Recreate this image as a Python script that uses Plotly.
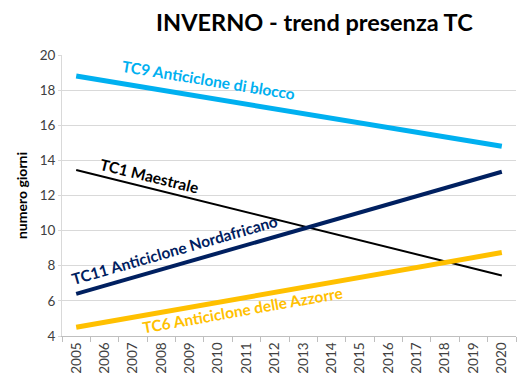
import plotly.graph_objects as go

years = [str(y) for y in range(2005, 2021)]
trend_years = ["2005", "2020"]
tc9 = [18.8, 14.8]
tc1 = [13.45, 7.45]
tc11 = [6.4, 13.35]
tc6 = [4.5, 8.75]

names = ["TC9 Anticiclone di blocco", "TC1 Maestrale",
         "TC11 Anticiclone Nordafricano", "TC6 Anticiclone delle Azzorre"]
colors = ["#00B0F0", "#000000", "#002060", "#FFC000"]
widths = [5, 2, 4, 5]
series = [tc9, tc1, tc11, tc6]

FONT = "Lato"
fig = go.Figure()
for s, n, c, w in zip(series, names, colors, widths):
    fig.add_trace(go.Scatter(x=trend_years, y=s, mode="lines", name=n,
                             line=dict(color=c, width=w), showlegend=False))

# labels: (x index, y value, angle)
lab = [(4.68, 18.55, 9.3), (2.6, 13.1, 13.8), (3.45, 8.9, -16), (5.85, 5.5, -10)]
for (xi, yv, ang), n, c in zip(lab, names, colors):
    fig.add_annotation(x=xi, y=yv, xref="x", yref="y", text="<b>%s</b>" % n,
                       showarrow=False, textangle=ang,
                       font=dict(family=FONT, size=15.5, color=c))

fig.update_layout(
    width=524, height=384,
    margin=dict(l=62, r=8, t=55, b=48, autoexpand=False),
    paper_bgcolor="white", plot_bgcolor="white",
    title=dict(text="<b>INVERNO - trend presenza TC</b>", x=0.6, xanchor="center",
               y=0.94, yref="container", yanchor="middle",
               font=dict(family=FONT, size=23.5, color="#000000")),
    font=dict(family=FONT, color="#404040"),
)
fig.update_xaxes(type="category", categoryorder="array", categoryarray=years,
                 range=[-0.5, 15.5], tickangle=-90, tickfont=dict(size=13.5, color="#404040"),
                 showgrid=False, showline=True, linecolor="#BFBFBF", linewidth=1,
                 ticks="outside", tickson="boundaries", ticklen=5, tickcolor="#BFBFBF",
                 automargin=False)
fig.update_yaxes(range=[4, 20], dtick=2, tickfont=dict(size=13.5, color="#404040"),
                 showgrid=True, gridcolor="#D9D9D9", gridwidth=1,
                 showline=True, linecolor="#D9D9D9", zeroline=False,
                 ticks="outside", ticklen=3, tickcolor="#D9D9D9", automargin=False,
                 title=dict(text="<b>numero giorni</b>", font=dict(size=14, color="#000000"),
                            standoff=8))
fig.write_html("out.html", config={"displayModeBar": False},
               post_script="document.body.style.margin='0';")
